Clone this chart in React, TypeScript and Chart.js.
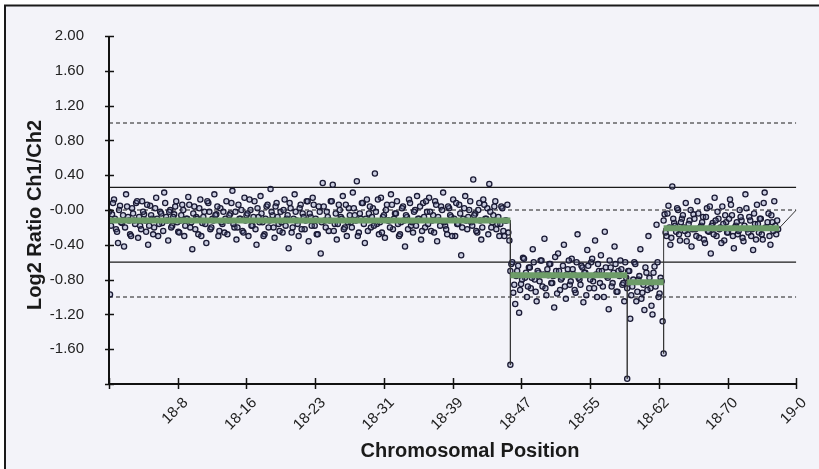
import React, { useEffect, useRef } from "react";
import { Chart, registerables } from "chart.js";
Chart.register(...registerables);

const FONT = "'Liberation Sans', Arial, sans-serif";

const xTickLabels = ["", "18-8", "18-16", "18-23", "18-31", "18-39", "18-47", "18-55", "18-62", "18-70", "19-0"];

// segment boundaries (position units, 10 per labelled tick) and segment means
const segStart = [0, 58.4, 75.4, 80.7];
const segEnd = [58.4, 75.4, 80.7, 97.5];
const segMean = [-0.12, -0.75, -0.83, -0.21];

// probe set A
const seg1Vals = [
  -0.97, -0.05, 0.12, -0.22, -0.38, 0.05, -0.15, -0.42, 0.18, -0.08, -0.28, 0.02, -0.12, 0.08, -0.32, -0.18, 0.1, -0.05, -0.25, -0.4,
  0.05, -0.1, -0.2, 0.14, -0.3, -0.02, -0.15, 0.2, -0.08, -0.35, 0.0, -0.18, -0.05, 0.1, -0.25, -0.12, 0.06, -0.3, -0.1, 0.15,
  -0.2, -0.45, 0.04, -0.08, -0.28, 0.12, -0.15, -0.02, -0.38, 0.08, -0.22, -0.1, 0.18, -0.05, -0.3, 0.02, -0.16, -0.26, 0.1, -0.12,
  -0.04, 0.22, -0.2, -0.34, 0.06, -0.1, -0.24, 0.14, -0.06, -0.3, 0.0, -0.18, 0.1, -0.4, -0.08, 0.16, -0.14, -0.28, 0.04, -0.2,
  0.24, -0.06, -0.32, 0.08, -0.16, -0.02, -0.26, 0.12, -0.1, -0.44, 0.02, -0.2, 0.18, -0.12, -0.3, 0.06, -0.04, -0.22, 0.1, -0.36,
  -0.08, 0.14, -0.18, -0.28, 0.04, -0.5, 0.31, -0.12, -0.02, -0.24, 0.1, 0.29, -0.16, -0.34, 0.06, -0.08, 0.16, -0.2, -0.3, 0.02,
  -0.14, 0.2, -0.06, 0.33, -0.26, -0.1, 0.08, -0.38, 0.12, -0.04, -0.2, 0.02, 0.42, -0.16, -0.28, 0.14, -0.08, -0.32, 0.06, -0.12,
  0.18, -0.22, -0.04, 0.1, -0.3, -0.14, 0.04, -0.42, -0.08, 0.12, -0.18, -0.26, 0.0, 0.16, -0.1, -0.34, 0.08, -0.2, -0.02, 0.14,
  -0.24, -0.06, 0.1, -0.36, -0.12, 0.04, 0.2, -0.18, -0.28, 0.02, -0.08, 0.12, -0.3, -0.16, 0.06, -0.52, -0.1, 0.16, -0.22, 0.0,
  -0.14, 0.35, -0.04, -0.26, 0.08, -0.34, 0.12, -0.1, 0.02, 0.3, -0.2, -0.06, 0.1, -0.16, -0.3, 0.04, -0.24, -0.12, 0.06, -0.35,
];
const seg2Vals = [
  -0.62, -0.95, -1.08, -0.7, -1.18, -0.85, -0.55, -0.78, -1.0, -0.66, -0.9, -0.45, -0.8, -1.05, -0.72, -0.58, -0.88, -0.33, -0.98, -0.75,
  -0.62, -0.84, -1.12, -0.7, -0.5, -0.92, -0.78, -0.4, -1.02, -0.68, -0.86, -0.56, -0.74, -0.95, -0.28, -0.8, -0.64, -1.06, -0.72, -0.46,
  -0.9, -0.6, -0.82, -0.35, -1.0, -0.7, -0.52, -0.88, -0.25, -0.76, -1.14, -0.66, -0.84, -0.42, -0.94, -0.7, -0.58, -0.86, -1.05, -0.78,
];
const seg3Vals = [-0.7, -1.25, -0.88, -0.6, -1.05, -0.8, -0.45, -0.95, -1.15, -0.72, -0.3, -0.9, -1.2, -0.65, -0.17, -1.0, -0.78, -1.28];
const seg4Vals = [
  -0.05, -0.3, 0.05, -0.4, 0.27, -0.15, -0.25, 0.0, -0.35, -0.1, -0.2, 0.08, -0.28, -0.12, -0.42, -0.05, -0.22, 0.1, -0.32, -0.18,
  -0.08, -0.38, 0.02, -0.25, -0.5, -0.15, 0.14, -0.3, -0.1, -0.2, 0.04, -0.35, -0.14, -0.26, 0.12, -0.06, -0.44, -0.18, -0.28, 0.0,
  -0.12, -0.36, 0.18, -0.22, -0.08, -0.3, -0.46, -0.16, 0.06, -0.26, -0.1, -0.34, 0.2, -0.2, -0.04, -0.4, -0.14, 0.1, -0.28, -0.22,
];

// probe set B (replicate spots, interleaved)
const seg1ValsB = [
  -0.02, -0.18, 0.08, -0.1, -0.25, 0.0, -0.14, -0.06, -0.2, 0.04, -0.12, -0.3, -0.04, -0.16, 0.1, -0.08, -0.22, -0.02, -0.12, 0.06,
  -0.18, -0.06, -0.28, 0.02, -0.1, -0.16, -0.04, -0.24, 0.08, -0.12, -0.02, -0.2, -0.08, 0.04, -0.14, -0.26, -0.06, 0.0, -0.18, -0.1,
  0.06, -0.14, -0.04, -0.22, -0.1, 0.02, -0.3, -0.08, -0.16, 0.1, -0.02, -0.2, -0.12, -0.06, 0.04, -0.24, -0.14, -0.02, -0.1, -0.28,
  -0.06, 0.08, -0.16, -0.02, -0.2, -0.1, 0.0, -0.26, -0.12, -0.04, 0.12, -0.18, -0.08, -0.22, 0.02, -0.14, -0.04, -0.3, -0.1, 0.06,
  -0.12, -0.02, -0.2, 0.04, -0.08, -0.24, -0.14, 0.0, -0.18, -0.06, 0.08, -0.26, -0.1, -0.02, -0.16, 0.02, -0.22, -0.08, -0.12, 0.1,
  -0.04, -0.18, 0.06, -0.1, -0.28, -0.02, -0.14, 0.04, -0.2, -0.08, -0.12, 0.1, -0.24, -0.04, -0.16, 0.0, -0.1, -0.22, 0.06, -0.14,
  -0.06, -0.2, 0.02, -0.12, -0.3, -0.04, 0.08, -0.16, -0.1, -0.24, 0.04, -0.08, -0.18, -0.02, 0.12, -0.14, -0.26, -0.06, 0.0, -0.12,
  -0.2, 0.06, -0.1, -0.04, -0.16, -0.28, 0.02, -0.12, -0.06, -0.22, 0.08, -0.14, -0.02, -0.18, -0.1, 0.04, -0.24, -0.08, 0.1, -0.16,
  -0.02, -0.12, -0.26, 0.06, -0.08, -0.18, 0.0, -0.14, -0.22, 0.04, -0.06, -0.3, -0.1, 0.08, -0.16, -0.04, -0.2, 0.02, -0.12, -0.08,
  0.1, -0.18, -0.06, -0.24, 0.0, -0.12, -0.2, 0.06, -0.1, -0.28, -0.02, -0.14, 0.04, -0.22, -0.08, -0.16, 0.02, -0.3, -0.12, -0.26,
];
const seg2ValsB = [
  -0.7, -0.6, -0.86, -0.76, -0.64, -0.92, -0.8, -0.56, -0.72, -0.88, -0.66, -0.78, -0.6, -0.94, -0.7, -0.82, -0.58, -0.74, -0.9, -0.68,
  -0.62, -0.84, -0.76, -0.54, -0.96, -0.7, -0.8, -0.64, -0.88, -0.74, -0.58, -0.82, -0.68, -0.92, -0.6, -0.78, -0.86, -0.66, -0.72, -0.98,
  -0.64, -0.8, -0.56, -0.9, -0.74, -0.62, -0.84, -0.7, -1.0, -0.66, -0.78, -0.58, -0.88, -0.72, -0.62, -0.94, -0.76, -0.68, -0.84, -0.6,
];
const seg3ValsB = [-0.9, -0.7, -0.98, -0.8, -0.62, -0.94, -0.76, -1.02, -0.86, -0.66, -0.92, -0.78, -1.1, -0.72, -0.88, -0.6, -0.96, -0.82];
const seg4ValsB = [
  -0.12, -0.26, -0.04, -0.2, -0.32, -0.1, -0.18, 0.02, -0.28, -0.14, -0.06, -0.24, -0.36, -0.16, 0.0, -0.22, -0.1, -0.3, -0.04, -0.2,
  -0.14, -0.34, -0.08, -0.24, 0.04, -0.18, -0.28, -0.12, -0.02, -0.22, -0.38, -0.16, -0.06, -0.26, -0.1, 0.06, -0.3, -0.2, -0.14, -0.24,
  -0.08, -0.32, -0.18, 0.02, -0.26, -0.12, -0.22, -0.04, -0.34, -0.16, -0.1, -0.28, 0.08, -0.2, -0.14, -0.3, -0.06, -0.24, -0.18, -0.12,
];

// outliers at the breakpoints
const breakPos = [58.4, 75.4, 80.7];
const breakVals = [-1.78, -1.94, -1.65];
const endPos = 100;
const endVal = 0;

const dashedRefs = [1, 0, -1];
const solidRefs = [0.26, -0.6];

const segValsA = [seg1Vals, seg2Vals, seg3Vals, seg4Vals];
const segValsB = [seg1ValsB, seg2ValsB, seg3ValsB, seg4ValsB];

function buildPoints() {
  const pts: { x: number; y: number }[] = [];
  const add = (sets: number[][], frac: number) =>
    sets.forEach((vals, k) => {
      const step = (segEnd[k] - segStart[k]) / vals.length;
      vals.forEach((v, i) => pts.push({ x: segStart[k] + (i + frac) * step, y: v }));
    });
  add(segValsA, 0.5);
  add(segValsB, 0.0);
  breakPos.forEach((p, i) => pts.push({ x: p, y: breakVals[i] }));
  return pts;
}

function buildTrace() {
  const pts: { x: number; y: number }[] = [{ x: segStart[0], y: segMean[0] }];
  for (let k = 0; k < breakPos.length; k++) {
    pts.push({ x: segEnd[k], y: segMean[k] });
    pts.push({ x: breakPos[k], y: breakVals[k] });
    pts.push({ x: segStart[k + 1], y: segMean[k + 1] });
  }
  pts.push({ x: segEnd[3], y: segMean[3] });
  pts.push({ x: endPos, y: endVal });
  return pts;
}

const framePlugin = {
  id: "frame",
  beforeDraw(chart: any) {
    const { ctx, width, height } = chart;
    ctx.save();
    ctx.fillStyle = "#ffffff";
    ctx.fillRect(0, 0, width, height);
    ctx.fillStyle = "#f3f3f9";
    ctx.fillRect(5, 5, width - 5, height - 5);
    ctx.strokeStyle = "#1a1a1a";
    ctx.lineWidth = 2;
    ctx.beginPath();
    ctx.moveTo(5, height);
    ctx.lineTo(5, 5.5);
    ctx.lineTo(width, 5.5);
    ctx.stroke();
    ctx.restore();
  },
  afterDatasetsDraw(chart: any) {
    const { ctx, chartArea, scales } = chart;
    const { left, right, top, bottom } = chartArea;
    ctx.save();
    ctx.strokeStyle = "#111";
    ctx.lineWidth = 2;
    ctx.beginPath();
    ctx.moveTo(left, top);
    ctx.lineTo(left, bottom);
    ctx.lineTo(right, bottom);
    ctx.stroke();
    ctx.lineWidth = 1.5;
    ctx.beginPath();
    scales.y.ticks.forEach((t: any) => {
      const y = Math.round(scales.y.getPixelForValue(t.value)) + 0.5;
      ctx.moveTo(left - 4, y);
      ctx.lineTo(left + 5, y);
    });
    scales.x.ticks.forEach((t: any) => {
      const x = Math.round(scales.x.getPixelForValue(t.value)) + 0.5;
      ctx.moveTo(x, bottom - 6);
      ctx.lineTo(x, bottom + 5);
    });
    ctx.stroke();
    ctx.restore();
  },
  afterDraw(chart: any) {
    const { ctx } = chart;
    ctx.save();
    ctx.fillStyle = "#1a1a1a";
    ctx.font = `bold 20px ${FONT}`;
    ctx.textAlign = "center";
    ctx.textBaseline = "middle";
    ctx.fillText("Chromosomal Position", 470, 451);
    ctx.translate(35, 215);
    ctx.rotate(-Math.PI / 2);
    ctx.fillText("Log2 Ratio Ch1/Ch2", 0, 0);
    ctx.restore();
  },
};

export default function App() {
  const ref = useRef<HTMLCanvasElement>(null);
  useEffect(() => {
    document.body.style.margin = "0";
    const canvas = ref.current!;
    const lineDs = (y: number, dash: number[], width: number, order: number) => ({
      type: "scatter" as const,
      data: [{ x: 0, y }, { x: 100, y }],
      showLine: true,
      borderColor: "#1a1a1a",
      borderWidth: width,
      borderDash: dash,
      pointRadius: 0,
      order,
    });
    const datasets: any[] = [
      ...dashedRefs.map((v) => lineDs(v, [4, 3], 1, 5)),
      ...solidRefs.map((v) => lineDs(v, [], 1.3, 5)),
      {
        data: buildPoints(),
        pointRadius: 2.6,
        pointBorderWidth: 1.3,
        borderColor: "#1b1b35",
        backgroundColor: "rgba(110,120,165,0.3)",
        order: 3,
      },
      {
        data: buildTrace(),
        showLine: true,
        borderColor: "#333",
        borderWidth: 1,
        pointRadius: 0,
        order: 2,
      },
      ...segMean.map((m, k) => ({
        data: [{ x: segStart[k], y: m }, { x: segEnd[k], y: m }],
        showLine: true,
        borderColor: "#6d9c68",
        borderWidth: 6,
        borderCapStyle: "butt",
        pointRadius: 0,
        order: 1,
      })),
    ];
    const chart = new Chart(canvas, {
      type: "scatter",
      data: { datasets },
      options: {
        animation: false,
        responsive: false,
        devicePixelRatio: 1,
        layout: { padding: { top: 36, right: 20, left: 0, bottom: 0 }, autoPadding: false },
        plugins: { legend: { display: false }, tooltip: { enabled: false } },
        scales: {
          x: {
            type: "linear",
            min: 0,
            max: 100,
            border: { display: false },
            grid: { display: false, drawTicks: false },
            ticks: {
              stepSize: 10,
              autoSkip: false,
              minRotation: 45,
              maxRotation: 45,
              padding: 10,
              labelOffset: 8,
              color: "#222",
              font: { family: FONT, size: 15 },
              callback: (v: any) => xTickLabels[Math.round(Number(v) / 10)] ?? "",
            },
            afterFit: (s: any) => {
              s.height = 85;
            },
          },
          y: {
            min: -2,
            max: 2,
            border: { display: false },
            grid: { display: false, drawTicks: false },
            ticks: {
              stepSize: 0.4,
              padding: 25,
              color: "#222",
              font: { family: FONT, size: 15 },
              callback: (v: any) => {
                const n = Math.round(Number(v) * 100) / 100;
                if (n <= -2) return "";
                if (n === 0) return "-0.00";
                return n.toFixed(2);
              },
            },
            afterFit: (s: any) => {
              s.width = 109;
            },
          },
        },
      },
      plugins: [framePlugin],
    } as any);
    return () => chart.destroy();
  }, []);
  return <canvas ref={ref} width={819} height={469} style={{ display: "block" }} />;
}
